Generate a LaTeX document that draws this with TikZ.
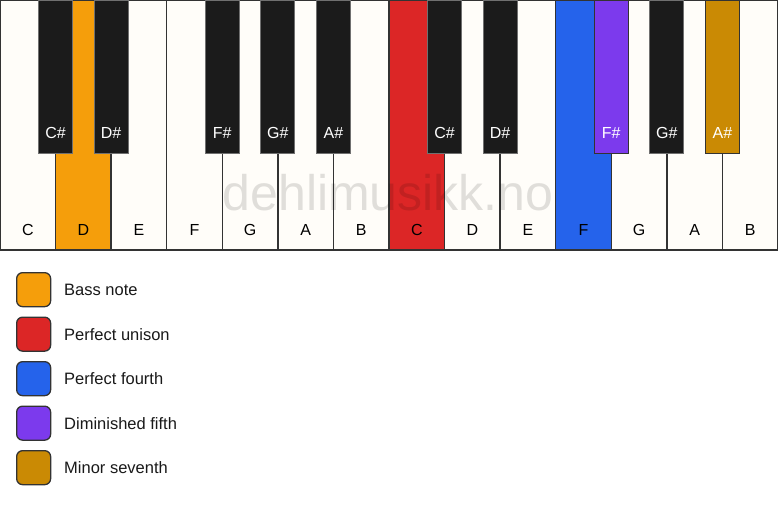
\documentclass[tikz,border=0pt]{standalone}
\usepackage{fontspec}
\setmainfont{Liberation Sans}
\definecolor{ivory}{HTML}{FFFDF9}
\definecolor{keyline}{HTML}{333333}
\definecolor{blackkey}{HTML}{1B1B1B}
\definecolor{cbass}{HTML}{F59E0B}
\definecolor{cunison}{HTML}{DC2626}
\definecolor{cfourth}{HTML}{2563EB}
\definecolor{cdim}{HTML}{7C3AED}
\definecolor{cseventh}{HTML}{CA8A04}
\begin{document}
\begin{tikzpicture}[x=1pt,y=-1pt,
  whitekey/.style={draw=keyline,line width=1.3pt,fill=ivory,minimum width=55.571pt,minimum height=250pt,anchor=north west,inner sep=0pt,outer sep=0pt},
  blackkeystyle/.style={draw=keyline!70,line width=1pt,fill=blackkey,minimum width=34pt,minimum height=153pt,anchor=north,inner sep=0pt,outer sep=0pt},
  wlabel/.style={font=\fontsize{16}{19}\selectfont,text=black,inner sep=0pt},
  blabel/.style={font=\fontsize{16}{19}\selectfont,text=white,inner sep=0pt},
  legbox/.style={draw=keyline,line width=1.3pt,rounded corners=6pt,minimum size=34pt,anchor=north west,inner sep=0pt},
  legtext/.style={font=\fontsize{16.5}{20}\selectfont,anchor=west,inner sep=0pt,text=black!90}
]
\useasboundingbox (0,0) rectangle (778,506);
\fill[white] (0,0) rectangle (778,506);
% white keys
\foreach \i/\n/\c in {0/C/ivory,1/D/cbass,2/E/ivory,3/F/ivory,4/G/ivory,5/A/ivory,6/B/ivory,7/C/cunison,8/D/ivory,9/E/ivory,10/F/cfourth,11/G/ivory,12/A/ivory,13/B/ivory}{
  \node[whitekey,fill=\c] (w\i) at ({\i*55.571},0) {};
  \node[wlabel] (wl\i) at ({\i*55.571+27.786},230) {\n};
}
% black keys
\foreach \b/\n/\c/\d in {1/C\#/blackkey/keyline!70,2/D\#/blackkey/keyline!70,4/F\#/blackkey/keyline!70,5/G\#/blackkey/keyline!70,6/A\#/blackkey/keyline!70,8/C\#/blackkey/keyline!70,9/D\#/blackkey/keyline!70,11/F\#/cdim/keyline,12/G\#/blackkey/keyline!70,13/A\#/cseventh/keyline}{
  \node[blackkeystyle,fill=\c,draw=\d] (b\b) at ({\b*55.571},0) {};
  \node[blabel] (bl\b) at ({\b*55.571},133) {\n};
}
% watermark
\node[font=\fontsize{50}{60}\selectfont,text=black,text opacity=0.12,inner sep=0pt] (wm) at (388,193) {dehlimusikk.no};
% legend
\foreach \k/\c/\t in {0/cbass/Bass note,1/cunison/Perfect unison,2/cfourth/Perfect fourth,3/cdim/Diminished fifth,4/cseventh/Minor seventh}{
  \node[legbox,fill=\c] (lb\k) at (16,{272+44.5*\k}) {};
  \node[legtext] (lt\k) at (64,{290+44.5*\k}) {\t};
}
\end{tikzpicture}
\end{document}
